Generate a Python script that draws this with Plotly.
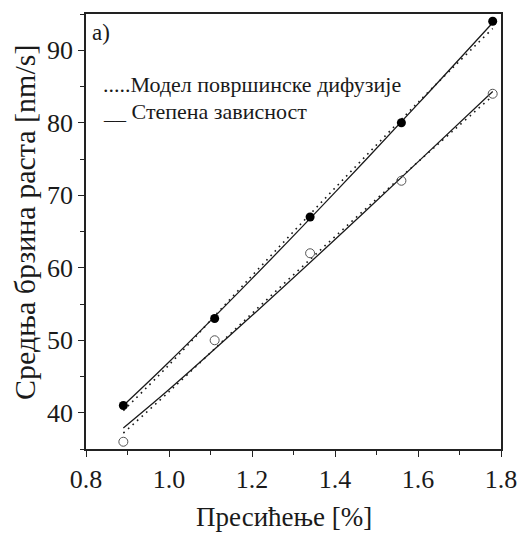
import plotly.graph_objects as go

# Measured points
x_pts = [0.89, 1.11, 1.34, 1.56, 1.78]
y_filled = [41, 53, 67, 80, 94]
y_open = [36, 50, 62, 72, 84]

# Fitted curves
x_fit = [0.89, 1.0, 1.2, 1.4, 1.6, 1.78]
y_power_upper = [41.0, 47.0, 58.5, 70.4, 82.6, 93.8]
y_diff_upper = [40.3, 46.6, 58.9, 71.0, 82.8, 93.0]
y_power_lower = [37.9, 43.2, 53.4, 63.9, 74.6, 84.3]
y_diff_lower = [37.2, 42.9, 53.7, 64.3, 74.6, 83.7]

x_ticks = [0.8, 1.0, 1.2, 1.4, 1.6, 1.8]
y_ticks = [40, 50, 60, 70, 80, 90]

FONT = "Liberation Serif"
INK = "#1a1a1a"

fig = go.Figure()
for yd in (y_diff_upper, y_diff_lower):
    fig.add_trace(go.Scatter(x=x_fit, y=yd, mode="lines", line_shape="spline",
                             line=dict(color=INK, width=1.6, dash="1.6px,4.5px"), showlegend=False))
for yp in (y_power_upper, y_power_lower):
    fig.add_trace(go.Scatter(x=x_fit, y=yp, mode="lines", line_shape="spline",
                             line=dict(color=INK, width=1.3), showlegend=False))
fig.add_trace(go.Scatter(x=x_pts, y=y_filled, mode="markers",
                         marker=dict(symbol="circle", size=9, color="black"), showlegend=False))
fig.add_trace(go.Scatter(x=x_pts, y=y_open, mode="markers",
                         marker=dict(symbol="circle-open", size=9, color="#555", line=dict(width=1)),
                         showlegend=False))

fig.add_annotation(xref="paper", yref="paper", x=0.01, y=0.99, xanchor="left", yanchor="top",
                   text="a)", showarrow=False, font=dict(family=FONT, size=23, color=INK))
fig.add_annotation(xref="paper", yref="paper", x=0.035, y=0.837, xanchor="left", yanchor="middle",
                   text=".....Модел површинске дифузије", showarrow=False,
                   font=dict(family=FONT, size=22, color=INK))
fig.add_annotation(xref="paper", yref="paper", x=0.035, y=0.775, xanchor="left", yanchor="middle",
                   text="__ Степена зависност", showarrow=False,
                   font=dict(family=FONT, size=22, color=INK))
fig.add_annotation(xref="paper", yref="paper", x=-0.147, y=0.522, xanchor="center", yanchor="middle",
                   textangle=-90, text="Средња брзина раста [nm/s]", showarrow=False,
                   font=dict(family=FONT, size=30, color=INK))
fig.add_annotation(xref="paper", yref="paper", x=0.478, y=-0.157, xanchor="center", yanchor="middle",
                   text="Пресићење [%]", showarrow=False,
                   font=dict(family=FONT, size=27, color=INK))

axis_common = dict(showline=True, linecolor="#222", linewidth=1.5, mirror=True,
                   ticks="outside", ticklen=6, tickwidth=1.2, tickcolor="#222",
                   showgrid=False, zeroline=False, automargin=False,
                   tickfont=dict(family=FONT, size=26, color=INK))

fig.update_xaxes(range=[0.8, 1.8], tickvals=x_ticks, ticktext=[f"{v:.1f}" for v in x_ticks],
                 minor=dict(ticks="outside", dtick=0.1, ticklen=4, tickcolor="#222"),
                 **axis_common)
fig.update_yaxes(range=[35, 95], tickvals=y_ticks,
                 minor=dict(ticks="outside", dtick=5, ticklen=4, tickcolor="#222"),
                 **axis_common)

fig.update_layout(width=519, height=533, margin=dict(l=86, r=18, t=14, b=84),
                  plot_bgcolor="white", paper_bgcolor="white",
                  font=dict(family=FONT, color=INK))

fig.write_html("out.html")
